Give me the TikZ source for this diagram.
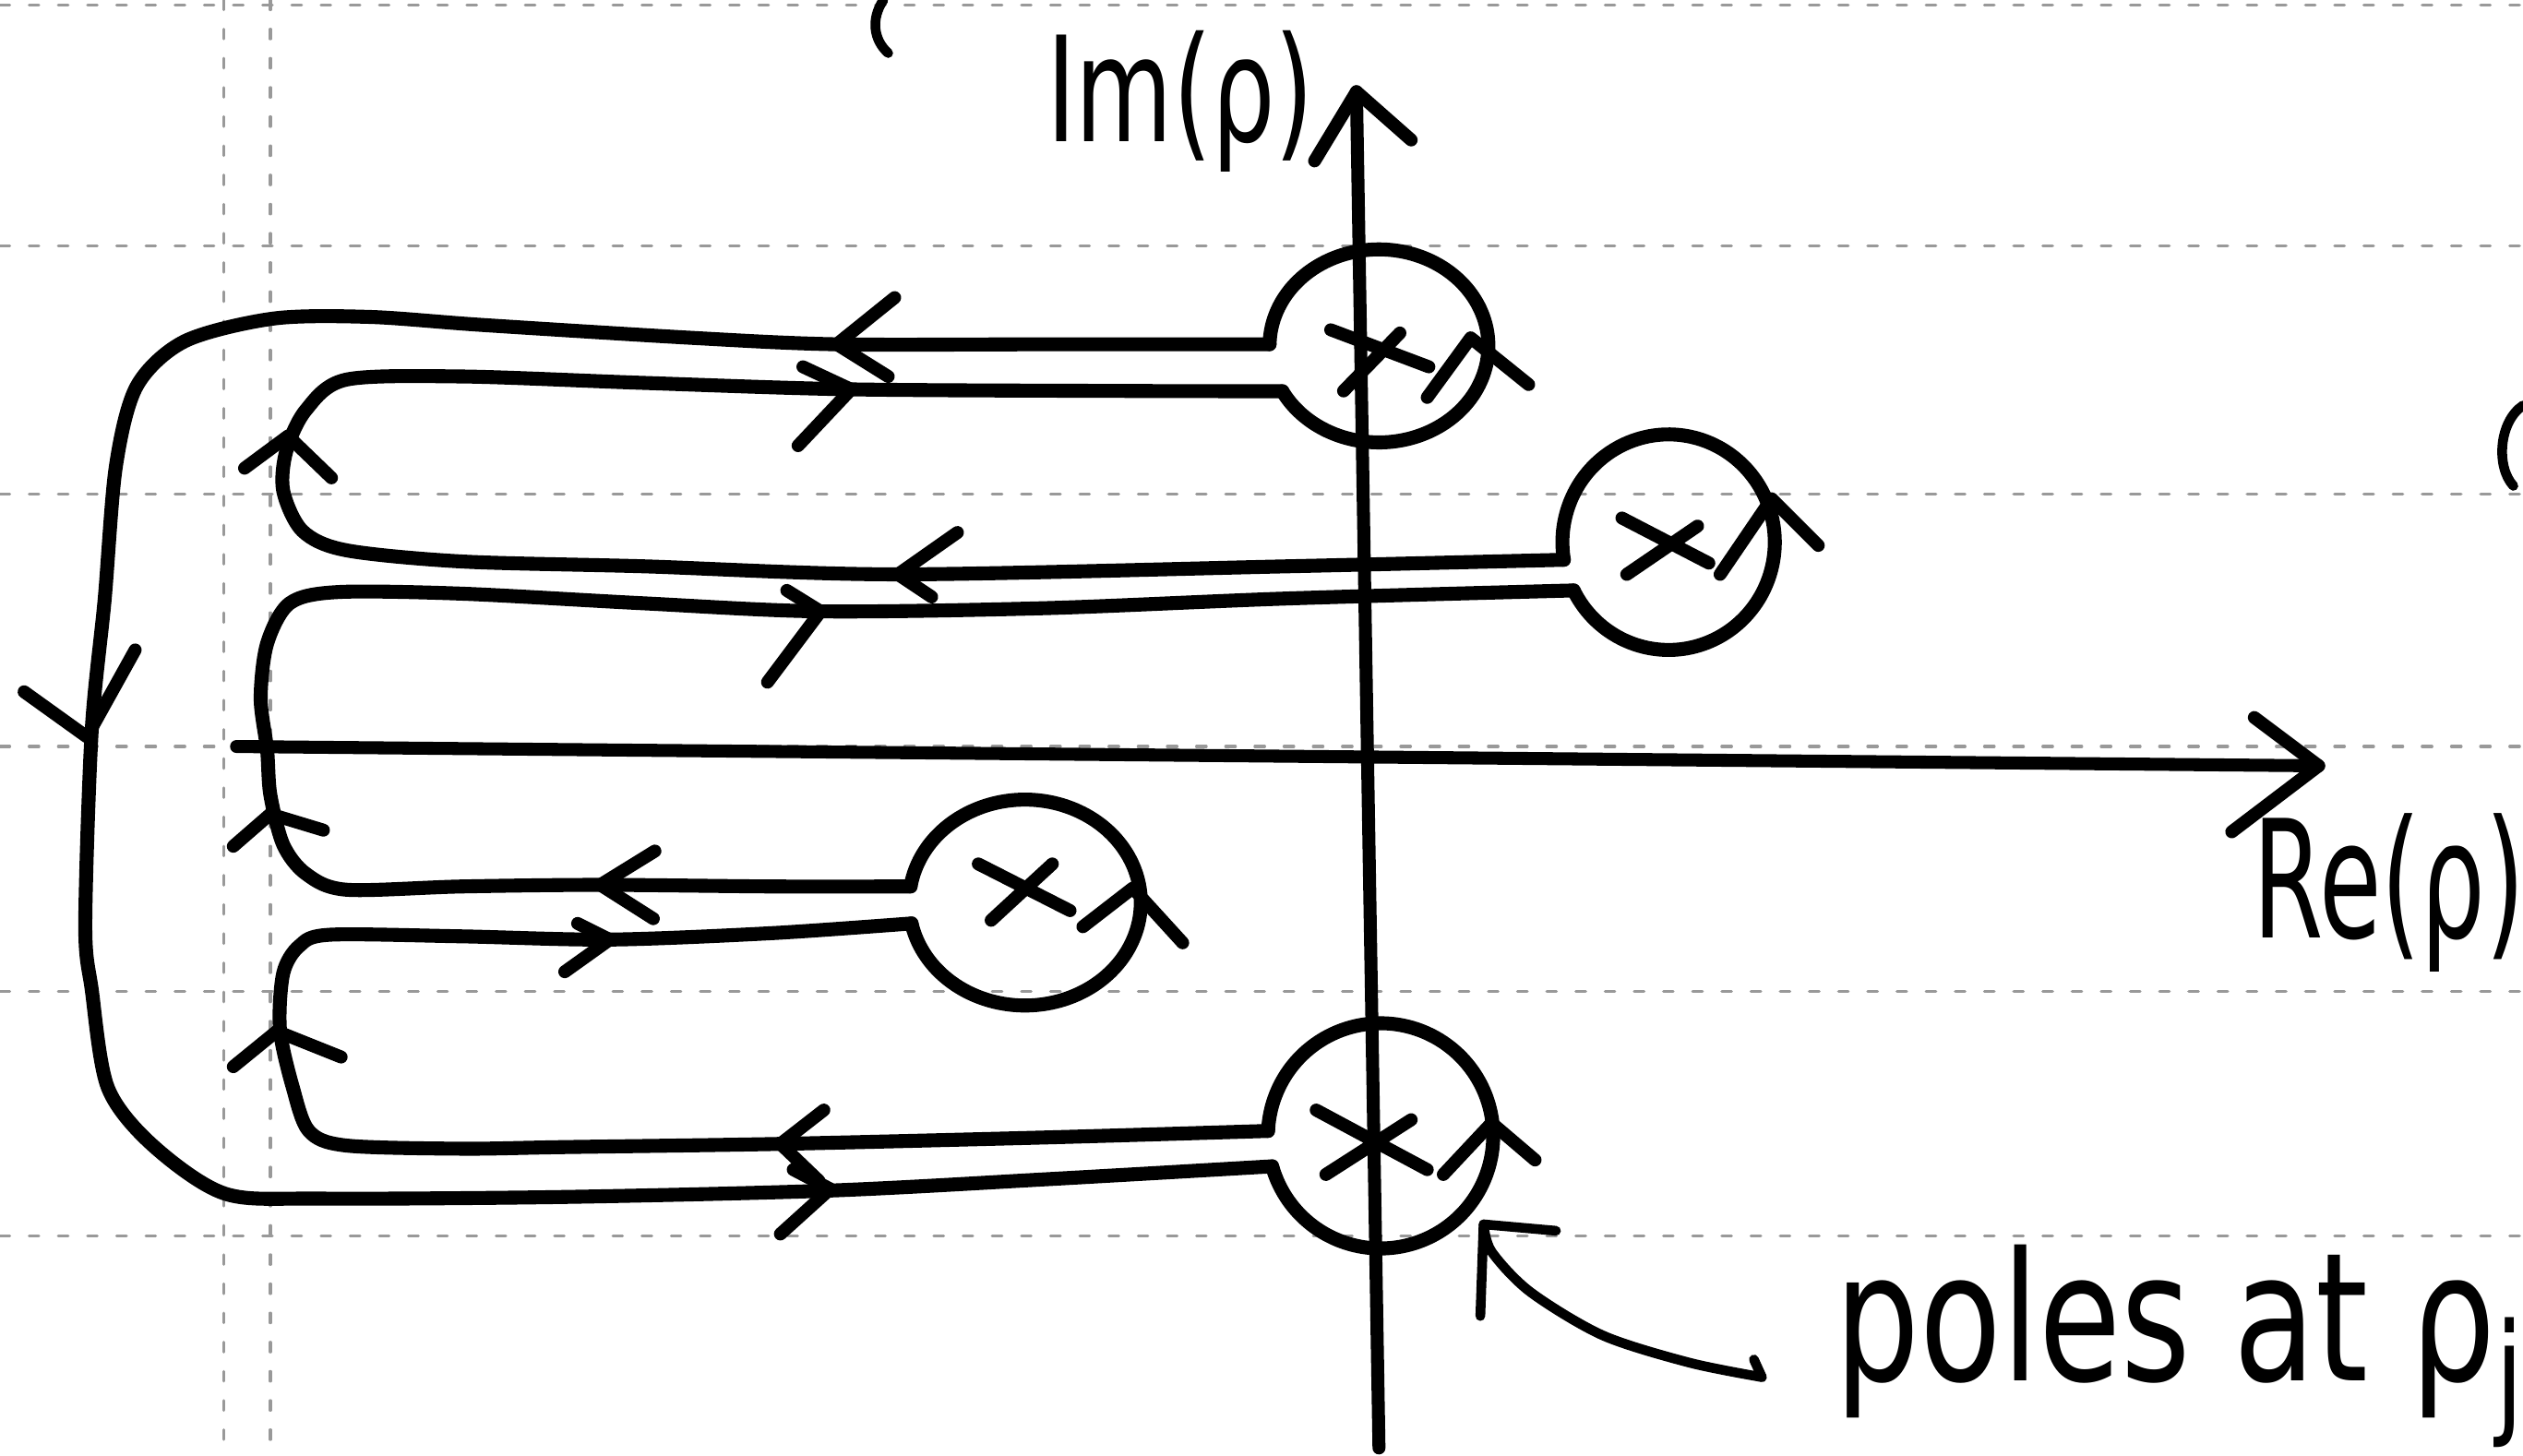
\documentclass[tikz,border=0pt]{standalone}
\usepackage{fontspec}
\setmainfont{DejaVu Sans}
\begin{document}
\begin{tikzpicture}[x=0.017436cm,y=-0.017436cm,line cap=round,line join=round]
\tikzset{
  ink/.style={line width=4.3pt},
  axisline/.style={line width=4pt},
  chevron/.style={line width=4pt},
  polemark/.style={line width=4pt},
  thinink/.style={line width=3pt},
  ruled/.style={black!40, line width=0.9pt, dash pattern=on 3pt off 6pt},
  hand/.style={inner sep=0pt, anchor=base west},
}
\fill[white] (0,0) rectangle (1568,905);
\useasboundingbox (0,0) rectangle (1568,905);

% ruled notebook paper
\foreach \yy in {3,153,307,464,616,768} \draw[ruled] (0,\yy) -- (1568,\yy);
\foreach \xx in {139,168} \draw[ruled] (\xx,0) -- (\xx,905);

% fragments of the previous line
\draw[thinink] (549,0) .. controls (541,12) and (543,25) .. (552,33);
\draw[thinink] (1568,252) .. controls (1553,262) and (1551,290) .. (1562,302);

% keyhole points on the pole circles
\coordinate (k1u) at ({857+68*cos(181)},{215+60*sin(181)});
\coordinate (k1l) at ({857+68*cos(152)},{215+60*sin(152)});
\coordinate (k2u) at ({1037+66*cos(170.6)},{337+67*sin(170.6)});
\coordinate (k2l) at ({1037+66*cos(153.4)},{337+67*sin(153.4)});
\coordinate (k3u) at ({637+72*cos(189)},{561+64*sin(189)});
\coordinate (k3l) at ({637+72*cos(168.3)},{561+64*sin(168.3)});
\coordinate (k4u) at ({858+70*cos(182.5)},{706+70*sin(182.5)});
\coordinate (k4l) at ({858+70*cos(164.3)},{706+70*sin(164.3)});

% axes
\coordinate (imbot) at (857,900);
\coordinate (imtip) at (843,57);
\coordinate (releft) at (147,464);
\coordinate (retip) at (1441,476);
\draw[axisline] (imbot) -- (imtip);
\draw[chevron] (817,100) -- (imtip) -- (877,87);
\draw[axisline] (releft) -- (retip);
\draw[chevron] (1401,446) -- (retip) -- (1387,517);

% small circles round the poles
\draw[ink] plot[domain=181:512, samples=90, smooth] ({857+68*cos(\x)},{215+60*sin(\x)});
\draw[ink] plot[domain=170.6:513.4, samples=90, smooth] ({1037+66*cos(\x)},{337+67*sin(\x)});
\draw[ink] plot[domain=189:528.3, samples=90, smooth] ({637+72*cos(\x)},{561+64*sin(\x)});
\draw[ink] plot[domain=182.5:524.3, samples=90, smooth] ({858+70*cos(\x)},{706+70*sin(\x)});

% poles
\draw[polemark] (827,205) -- (888,228) (835,243) -- (870,207);
\draw[polemark] (1008,322) -- (1062,350) (1011,357) -- (1055,327);
\draw[polemark] (608,537) -- (665,566) (616,572) -- (654,537);
\draw[polemark] (818,690) -- (887,727) (824,730) -- (877,696);

% arrows on the pole circles
\draw[chevron] (887,247) -- (914,210) -- (950,239);
\draw[chevron] (1069,357) -- (1101,310) -- (1130,339);
\draw[chevron] (673,576) -- (704,552) -- (735,586);
\draw[chevron] (897,730) -- (927,698) -- (954,721);

% contour: outer part
\draw[ink] plot[smooth, tension=0.5] coordinates {(k1u) (650,214) (520,214) (430,210) (300,202) (230,197) (170,198) (115,212) (85,240) (72,290) (65,373) (57,454) (53,575) (57,615) (67,676) (95,712) (140,742) (200,745) (350,744) (516,740) (650,733) (k4l)};
% loop between pole 2 and pole 1
\draw[ink] plot[smooth, tension=0.5] coordinates {(k2u) (800,352) (558,357) (400,352) (287,349) (215,342) (188,330) (176,305) (178,280) (190,255) (215,236) (287,234) (400,238) (529,242) (700,243) (k1l)};
% loop between pole 3 and pole 2
\draw[ink] plot[smooth, tension=0.5] coordinates {(k3u) (480,551) (373,550) (287,551) (215,553) (190,543) (176,525) (168,494) (166,466) (162,434) (166,400) (180,375) (210,368) (287,369) (400,375) (510,380) (650,378) (800,372) (k2l)};
% loop between pole 4 and pole 3
\draw[ink] plot[smooth, tension=0.5] coordinates {(k4u) (650,707) (485,711) (350,713) (287,714) (215,712) (192,703) (182,676) (174,640) (176,605) (186,588) (205,581) (287,582) (379,584) (480,580) (k3l)};

% direction arrows on the contour
\draw[chevron] (556,185) -- (520,214) -- (552,234);
\draw[chevron] (499,228) -- (529,242) -- (496,277);
\draw[chevron] (595,331) -- (558,357) -- (579,371);
\draw[chevron] (489,367) -- (510,380) -- (477,424);
\draw[chevron] (407,529) -- (373,550) -- (406,571);
\draw[chevron] (359,574) -- (379,584) -- (351,604);
\draw[chevron] (512,690) -- (485,711) -- (509,734);
\draw[chevron] (493,727) -- (516,739) -- (485,767);
\draw[chevron] (15,430) -- (54,458) -- (84,404);
\draw[chevron] (152,291) -- (179,271) -- (206,297);
\draw[chevron] (145,526) -- (168,506) -- (201,516);
\draw[chevron] (145,663) -- (172,641) -- (212,657);

% labels
\node[hand] (imlabel) at (650,88) {\scalebox{0.75}[1.1]{\fontsize{41}{44}\selectfont Im(ρ)}};
\node[hand] (relabel) at (1400,583) {\scalebox{0.68}[1.1]{\fontsize{46}{48}\selectfont Re(ρ)}};
\node[hand] (poletext) at (1140,858) {\scalebox{0.86}[1.15]{\fontsize{48}{50}\selectfont poles at ρ\raisebox{-0.22em}{\fontsize{36}{38}\selectfont j}}};

% pointer to the pole
\coordinate (lblstart) at (1095,856);
\coordinate (lbltip) at (922,761);
\draw[thinink] (1090,845) -- (lblstart);
\draw[thinink] plot[smooth, tension=0.5] coordinates {(lblstart) (1050,847) (996,830) (951,803) (927,778) (lbltip)};
\draw[thinink] (967,765) -- (lbltip) -- (920,818);
\end{tikzpicture}
\end{document}
